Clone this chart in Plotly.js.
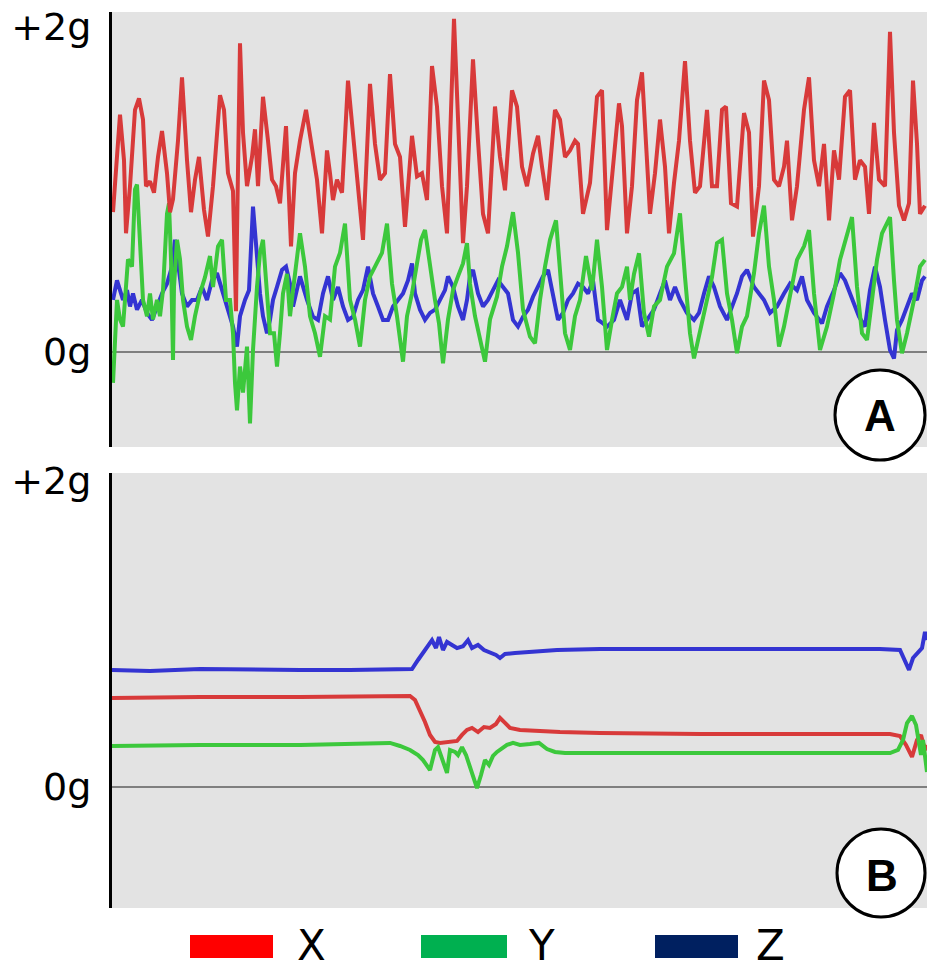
<!DOCTYPE html>
<html>
<head>
<meta charset="utf-8">
<script src="https://cdn.plot.ly/plotly-3.0.1.min.js"></script>
<style>
  html, body { margin: 0; padding: 0; background: #ffffff; }
  #chart { width: 927px; height: 971px; }
</style>
</head>
<body>
<div id="chart"></div>
<script>
// ---------- Panel A (dynamic) : time index and acceleration in g ----------
const aX_t = [1,5,8,12,14,18,23,27,31,34,38,42,46,50,55,58,61,66,70,75,79,83,87,92,96,101,108,112,116,121,124,125,128,131,135,140,143,146,151,156,160,164,168,174,179,183,188,194,
  200,205,210,215,218,221,225,230,236,241,246,251,258,263,268,273,278,283,288,293,300,305,310,315,320,325,330,335,342,347,351,355,361,366,371,376,383,388,393,400,405,410,415,421,426,430,435,443,448,453,458,463,466,471,478,485,490,495,
  502,507,510,515,520,525,530,533,538,543,548,553,557,562,567,573,578,583,588,595,600,605,610,614,619,625,632,637,641,647,652,657,662,667,672,675,680,685,692,697,702,707,712,717,722,727,733,738,743,748,753,757,762,767,773,778,782,787,792,797,801,805,808,813];
const aX_g = [0.86,1.25,1.46,1.18,0.73,1.02,1.49,1.56,1.43,1.02,1.05,0.98,1.20,1.36,1.10,0.86,0.94,1.30,1.69,1.18,0.86,1.06,1.20,0.875,0.71,1.02,1.58,1.49,1.10,0.99,0.25,0.73,1.90,1.35,1.02,1.20,1.37,1.02,1.57,1.30,1.06,1.02,0.915,1.39,0.65,1.10,1.30,1.49,
  1.24,1.06,0.73,1.24,1.10,0.935,1.06,0.98,1.67,1.35,1.02,0.69,1.65,1.28,1.06,1.10,1.71,1.28,1.20,0.77,1.33,1.08,1.10,0.935,1.76,1.51,1.02,0.73,2.05,1.28,0.67,1.02,1.80,1.30,0.85,0.73,1.51,1.20,0.995,1.61,1.51,1.14,1.02,1.22,1.33,1.14,0.935,1.49,1.43,1.20,1.24,1.30,1.28,0.85,1.04,1.57,1.61,0.75,
  1.18,1.53,1.39,0.73,1.02,1.55,1.72,1.35,0.85,1.10,1.43,1.14,0.73,1.04,1.30,1.79,1.30,0.98,1.02,1.49,1.02,1.02,1.49,1.51,0.915,0.895,1.47,1.35,0.71,1.02,1.67,1.55,1.06,1.02,1.14,1.30,0.81,1.02,1.49,1.69,1.18,1.02,1.28,0.81,1.24,1.06,1.57,1.61,1.06,1.18,1.14,0.85,1.41,1.06,1.02,1.97,1.35,0.90,0.81,0.915,1.67,1.28,0.85,0.90];

const aY_t = [1,3,5,8,11,13,16,20,23,25,28,31,35,38,41,45,48,51,55,57,59,61,62,65,68,71,75,79,83,88,93,98,101,106,110,114,118,121,123,125,128,131,135,138,141,143,145,148,151,155,158,162,165,168,171,175,178,181,185,
  188,193,198,203,208,213,218,223,228,233,238,243,248,253,258,263,270,275,280,285,291,295,300,305,309,313,318,323,327,331,336,341,346,351,355,358,363,368,373,378,385,390,395,401,406,411,418,423,428,433,438,444,448,453,458,463,468,474,480,485,490,495,
  500,505,510,515,518,522,527,532,537,542,548,555,562,568,573,578,582,588,595,600,605,610,615,620,625,630,635,642,647,652,657,662,667,672,678,685,692,697,702,708,715,722,728,735,740,745,750,755,760,765,770,778,782,785,790,795,802,808,813];
const aY_g = [-0.19,0.115,0.32,0.20,0.156,0.32,0.57,0.525,1.00,1.03,0.61,0.32,0.22,0.36,0.20,0.32,0.22,0.38,0.85,0.915,0.57,-0.05,0.40,0.69,0.57,0.32,0.156,0.074,0.22,0.36,0.46,0.59,0.40,0.65,0.69,0.32,0.32,0.115,-0.19,-0.36,-0.09,-0.25,0.033,-0.44,0.012,0.24,0.40,0.61,0.69,0.36,0.115,0.115,-0.09,0.115,0.36,0.48,0.22,0.38,0.59,
  0.73,0.525,0.22,0.115,-0.03,0.22,0.20,0.525,0.61,0.79,0.32,0.20,0.033,0.32,0.465,0.525,0.61,0.79,0.42,0.22,-0.06,0.22,0.36,0.545,0.69,0.75,0.525,0.32,0.176,-0.07,0.20,0.38,0.465,0.545,0.67,0.42,0.22,0.09,-0.06,0.20,0.34,0.525,0.65,0.86,0.61,0.26,0.094,0.053,0.32,0.525,0.69,0.81,0.525,0.115,0.012,0.22,0.32,0.59,0.38,0.69,0.40,0.012,
  0.197,0.36,0.40,0.525,0.32,0.48,0.607,0.24,0.094,0.28,0.32,0.525,0.607,0.853,0.46,0.115,-0.04,0.115,0.32,0.46,0.67,0.69,0.36,0.197,-0.008,0.156,0.22,0.485,0.73,0.90,0.525,0.32,0.033,0.156,0.36,0.567,0.65,0.75,0.36,0.012,0.156,0.36,0.567,0.73,0.83,0.40,0.115,0.074,0.32,0.567,0.73,0.83,0.44,0.197,-0.008,0.115,0.32,0.525,0.567];

const aZ_t = [1,5,8,11,15,18,21,25,30,35,40,45,50,55,60,63,66,70,75,80,85,90,95,100,105,109,113,118,121,125,128,133,137,141,143,145,148,151,155,158,161,165,170,174,178,181,186,
  188,195,201,206,211,216,221,226,231,236,241,246,251,256,261,266,271,276,281,286,291,296,300,303,308,313,318,323,328,333,336,341,346,351,355,358,361,366,371,376,381,386,391,396,401,406,411,416,421,426,431,436,441,446,451,456,461,466,471,476,481,486,491,
  495,502,508,515,520,525,530,535,542,548,553,558,563,568,575,582,587,592,597,602,608,615,620,625,630,635,642,647,652,658,665,672,678,685,690,695,702,710,715,722,728,733,740,747,753,758,763,768,773,778,782,785,790,795,800,805,810,813];
const aZ_g = [0.32,0.44,0.38,0.32,0.38,0.28,0.36,0.26,0.32,0.24,0.197,0.28,0.36,0.42,0.525,0.69,0.525,0.36,0.28,0.32,0.32,0.40,0.32,0.44,0.485,0.40,0.32,0.22,0.156,0.033,0.22,0.32,0.38,0.894,0.73,0.567,0.36,0.22,0.115,0.197,0.32,0.40,0.505,0.525,0.42,0.28,0.42,
  0.465,0.32,0.217,0.197,0.36,0.465,0.32,0.40,0.28,0.197,0.217,0.32,0.38,0.525,0.36,0.28,0.197,0.197,0.28,0.32,0.36,0.44,0.545,0.36,0.26,0.197,0.24,0.26,0.32,0.38,0.465,0.40,0.28,0.197,0.32,0.465,0.505,0.36,0.28,0.32,0.38,0.44,0.40,0.36,0.197,0.156,0.217,0.26,0.34,0.40,0.465,0.505,0.36,0.197,0.24,0.32,0.36,0.42,0.40,0.36,0.44,0.197,0.176,
  0.156,0.197,0.32,0.197,0.36,0.38,0.156,0.197,0.26,0.36,0.44,0.32,0.40,0.32,0.24,0.197,0.24,0.36,0.465,0.40,0.28,0.197,0.28,0.36,0.465,0.505,0.40,0.36,0.32,0.24,0.28,0.36,0.42,0.38,0.465,0.32,0.24,0.176,0.28,0.38,0.485,0.44,0.32,0.217,0.156,0.38,0.525,0.40,0.197,0.012,-0.04,0.135,0.197,0.28,0.36,0.32,0.44,0.465];

// ---------- Panel B (static) ----------
const bX_t = [0,88,188,288,298,303,308,313,318,323,328,338,345,350,355,360,366,372,378,384,388,392,398,408,448,488,588,688,778,788,794,800,805,809,813,815];
const bX_g = [0.582,0.588,0.588,0.595,0.595,0.569,0.503,0.425,0.34,0.294,0.288,0.294,0.301,0.34,0.373,0.386,0.359,0.392,0.386,0.412,0.451,0.425,0.386,0.373,0.359,0.353,0.346,0.346,0.346,0.333,0.275,0.196,0.307,0.34,0.242,0.275];

const bY_t = [0,88,188,278,288,298,306,311,318,323,326,331,335,338,343,346,350,354,358,362,365,369,373,377,381,385,390,395,401,408,418,427,435,443,453,588,688,778,786,791,795,800,804,807,809,811,813,815];
const bY_g = [0.268,0.275,0.275,0.288,0.268,0.242,0.209,0.176,0.111,0.242,0.261,0.176,0.092,0.242,0.229,0.209,0.261,0.209,0.131,0.046,-0.007,0.078,0.176,0.144,0.203,0.229,0.255,0.275,0.288,0.275,0.281,0.288,0.248,0.229,0.222,0.222,0.222,0.222,0.242,0.307,0.418,0.464,0.405,0.275,0.209,0.307,0.176,0.098];

const bZ_t = [0,38,88,138,188,238,288,300,306,313,320,324,327,331,335,340,345,351,356,360,366,372,378,384,388,393,403,418,445,488,588,688,768,788,793,797,801,806,810,813,815];
const bZ_g = [0.765,0.758,0.771,0.765,0.765,0.765,0.765,0.771,0.83,0.895,0.96,0.908,0.98,0.895,0.948,0.928,0.908,0.92,0.96,0.908,0.928,0.895,0.882,0.863,0.843,0.869,0.876,0.882,0.895,0.902,0.902,0.902,0.902,0.895,0.83,0.765,0.843,0.882,0.908,1.013,0.96];

// ---------- labels ----------
const tickVals = [0, 2];
const tickText = ['0g', '+2g'];
const seriesNames = ['X', 'Y', 'Z'];
const panelNames = ['A', 'B'];

// ---------- styles ----------
const lineCol = { X: '#d83a3a', Y: '#3cc83c', Z: '#3434d2' };
const legendCol = { X: '#ff0000', Y: '#00b050', Z: '#002060' };
const bg = '#e3e3e3';
const FONT = 'DejaVu Sans, sans-serif';

function line(t, g, name, xa, ya) {
  return { x: t, y: g, name: name, xaxis: xa, yaxis: ya, type: 'scatter', mode: 'lines',
           line: { color: lineCol[name], width: 4 }, hoverinfo: 'skip', showlegend: false };
}

const data = [
  line(aZ_t, aZ_g, 'Z', 'x', 'y'),
  line(aY_t, aY_g, 'Y', 'x', 'y'),
  line(aX_t, aX_g, 'X', 'x', 'y'),
  line(bZ_t, bZ_g, 'Z', 'x2', 'y2'),
  line(bX_t, bX_g, 'X', 'x2', 'y2'),
  line(bY_t, bY_g, 'Y', 'x2', 'y2')
];

const yCommon = {
  tickvals: tickVals, ticktext: tickText, ticks: '', ticklabelstandoff: 10,
  tickfont: { family: FONT, size: 38, color: '#000' },
  showline: true, linecolor: '#000', linewidth: 3,
  zeroline: true, zerolinecolor: '#7f7f7f', zerolinewidth: 2,
  showgrid: false, automargin: false, fixedrange: true
};
const xCommon = { range: [0, 815], visible: false, showgrid: false, zeroline: false, fixedrange: true };

// paper helpers (plot area: x 112..927, y 12..908)
const px = v => (v - 112) / 815;
const py = v => (908 - v) / 896;

const shapes = [
  { type: 'circle', xref: 'paper', yref: 'paper', x0: px(835), x1: px(925), y0: py(460), y1: py(370),
    fillcolor: '#ffffff', line: { color: '#000', width: 3 }, layer: 'above' },
  { type: 'circle', xref: 'paper', yref: 'paper', x0: px(837), x1: px(925), y0: py(917), y1: py(829),
    fillcolor: '#ffffff', line: { color: '#000', width: 3 }, layer: 'above' }
];
const legendBoxes = [[190, 273], [421, 507], [655, 738]];
const legendText = [311, 541, 770];
const annotations = [
  { text: '<b>' + panelNames[0] + '</b>', xref: 'paper', yref: 'paper', x: px(880), y: py(415), showarrow: false,
    xanchor: 'center', yanchor: 'middle', font: { family: 'Liberation Sans, Arial, sans-serif', size: 44, color: '#000' } },
  { text: '<b>' + panelNames[1] + '</b>', xref: 'paper', yref: 'paper', x: px(882), y: py(875), showarrow: false,
    xanchor: 'center', yanchor: 'middle', font: { family: 'Liberation Sans, Arial, sans-serif', size: 44, color: '#000' } }
];
seriesNames.forEach((n, i) => {
  shapes.push({ type: 'rect', xref: 'paper', yref: 'paper', x0: px(legendBoxes[i][0]), x1: px(legendBoxes[i][1]),
    y0: py(958), y1: py(935), fillcolor: legendCol[n], line: { width: 0 } });
  annotations.push({ text: n, xref: 'paper', yref: 'paper', x: px(legendText[i]), y: py(946), showarrow: false,
    xanchor: 'center', yanchor: 'middle', font: { family: FONT, size: 42, color: '#000' } });
});

const layout = {
  width: 927, height: 971,
  margin: { l: 112, r: 0, t: 12, b: 63, pad: 0 },
  paper_bgcolor: '#ffffff', plot_bgcolor: bg,
  showlegend: false,
  xaxis: Object.assign({ anchor: 'y', domain: [0, 1] }, xCommon),
  xaxis2: Object.assign({ anchor: 'y2', domain: [0, 1] }, xCommon),
  yaxis: Object.assign({ anchor: 'x', domain: [py(447), 1], range: [-0.585, 2.092] }, yCommon),
  yaxis2: Object.assign({ anchor: 'x2', domain: [0, py(473)], range: [-0.791, 2.052] }, yCommon),
  shapes: shapes,
  annotations: annotations
};

Plotly.newPlot('chart', data, layout, { displayModeBar: false, staticPlot: true });
</script>
</body>
</html>
